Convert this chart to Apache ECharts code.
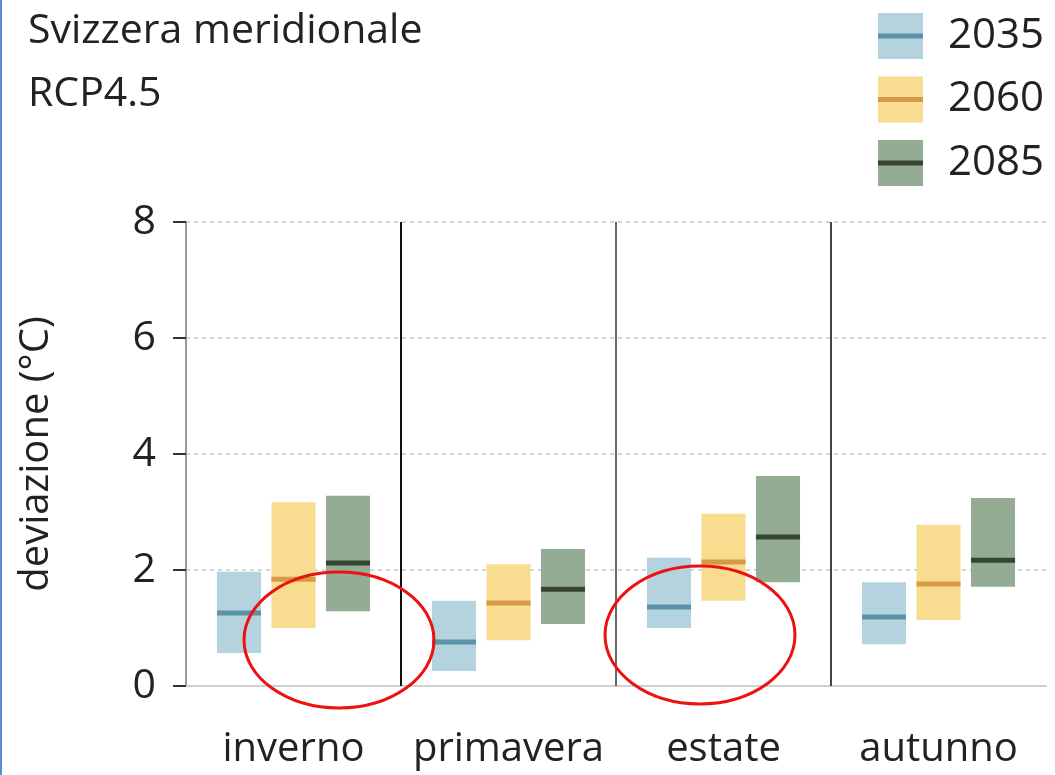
<!DOCTYPE html>
<html>
<head>
<meta charset="utf-8">
<script src="https://cdn.jsdelivr.net/npm/echarts@6/dist/echarts.min.js"></script>
<style>
  html, body { margin: 0; padding: 0; background: #fff; }
  #chart { width: 1055px; height: 775px; }
</style>
</head>
<body>
<div id="chart"></div>
<script>
// stagioni e scenari
const seasons = ['inverno', 'primavera', 'estate', 'autunno'];
const years = ['2035', '2060', '2085'];
const yTicks = [0, 2, 4, 6, 8];

// deviazione (°C): minimo, mediana, massimo per stagione
const low2035 = [0.57, 0.26, 1.00, 0.72];
const med2035 = [1.26, 0.76, 1.36, 1.19];
const high2035 = [1.97, 1.47, 2.21, 1.79];

const low2060 = [1.00, 0.79, 1.47, 1.14];
const med2060 = [1.84, 1.43, 2.14, 1.76];
const high2060 = [3.17, 2.10, 2.97, 2.78];

const low2085 = [1.29, 1.07, 1.79, 1.71];
const med2085 = [2.12, 1.67, 2.57, 2.17];
const high2085 = [3.28, 2.36, 3.62, 3.24];

const boxColors = ['#b4d3de', '#f8dc8f', '#94ac93'];
const lineColors = ['#5b92a8', '#d59a45', '#364530'];
const sepColors = ['#111111', '#666666', '#444444'];
const FONT = 'Open Sans';

let chart = echarts.init(document.getElementById('chart'));

function buildData(lo, md, hi) {
  return seasons.map((s, i) => [i, lo[i], md[i], hi[i]]);
}

function makeRender(k) {
  return function (params, api) {
    const cat = api.value(0);
    const band = api.size([1, 0])[0];
    const w = band * 0.205;
    const cx = api.coord([cat, 0])[0] + (k - 1) * band * 0.2535;
    const yBot = api.coord([cat, api.value(1)])[1];
    const yMed = api.coord([cat, api.value(2)])[1];
    const yTop = api.coord([cat, api.value(3)])[1];
    return {
      type: 'group',
      children: [
        { type: 'rect', shape: { x: cx - w / 2, y: yTop, width: w, height: yBot - yTop }, style: { fill: boxColors[k] } },
        { type: 'rect', shape: { x: cx - w / 2, y: yMed - 2.5, width: w, height: 5 }, style: { fill: lineColors[k] } }
      ]
    };
  };
}

// linee verticali tra le stagioni
function renderSep(params, api) {
  const cat = api.value(0);
  const band = api.size([1, 0])[0];
  const x = api.coord([cat, 0])[0] - band / 2;
  const y0 = api.coord([cat, yTicks[0]])[1];
  const y1 = api.coord([cat, yTicks[yTicks.length - 1]])[1];
  return {
    type: 'line',
    shape: { x1: x, y1: y0, x2: x, y2: y1 },
    style: { stroke: sepColors[params.dataIndex], lineWidth: 2 }
  };
}

const allLow = [low2035, low2060, low2085];
const allMed = [med2035, med2060, med2085];
const allHigh = [high2035, high2060, high2085];

let series = years.map((y, k) => ({
  name: y,
  type: 'custom',
  renderItem: makeRender(k),
  itemStyle: { color: boxColors[k] },
  encode: { x: 0, y: [1, 2, 3] },
  data: buildData(allLow[k], allMed[k], allHigh[k]),
  z: 3
}));
series.push({
  name: 'sep',
  type: 'custom',
  renderItem: renderSep,
  encode: { x: 0, y: 1 },
  data: [[1, 0], [2, 0], [3, 0]],
  silent: true,
  z: 2
});

let option = {
  animation: false,
  title: {
    text: 'Svizzera meridionale\nRCP4.5',
    left: 28,
    top: 0,
    padding: 0,
    textStyle: { fontFamily: FONT, fontSize: 41, fontWeight: 'normal', color: '#222', lineHeight: 63 }
  },
  legend: [
    {
      data: years,
      orient: 'vertical',
      left: 878,
      top: 13,
      padding: 0,
      icon: 'rect',
      itemWidth: 45,
      itemHeight: 46,
      itemGap: 17.5,
      selectedMode: false,
      textStyle: { fontFamily: FONT, fontSize: 42, color: '#222', lineHeight: 40, padding: [0, 0, 0, 20] }
    },
    {
      data: years.map((y, k) => ({ name: y, itemStyle: { color: lineColors[k] } })),
      orient: 'vertical',
      left: 878,
      top: 16,
      padding: 0,
      icon: 'rect',
      itemWidth: 45,
      itemHeight: 5,
      itemGap: 23.5,
      selectedMode: false,
      formatter: () => ' ',
      textStyle: { fontSize: 40, lineHeight: 40, color: 'transparent' }
    }
  ],
  grid: { left: 186, right: 9, top: 222, bottom: 89 },
  xAxis: {
    type: 'category',
    data: seasons,
    axisLine: { lineStyle: { color: '#d0d0d0', width: 2 } },
    axisTick: { show: false },
    axisLabel: { interval: 0, fontFamily: FONT, fontSize: 40, color: '#222', margin: 44 },
    splitLine: { show: false }
  },
  yAxis: {
    type: 'value',
    min: 0,
    max: 8,
    interval: 2,
    name: 'deviazione (°C)',
    nameLocation: 'middle',
    nameGap: 129,
    nameTextStyle: { fontFamily: FONT, fontSize: 40, color: '#222' },
    axisLine: { show: true, lineStyle: { color: '#999', width: 2 } },
    axisTick: { show: true, length: 13, lineStyle: { color: '#333', width: 2 } },
    axisLabel: { fontFamily: FONT, fontSize: 41, color: '#222', margin: 30 },
    splitLine: { show: true, lineStyle: { color: '#c8c8c8', type: [4, 4], width: 1.5 } }
  },
  graphic: [
    { type: 'line', shape: { x1: 1, y1: 0, x2: 1, y2: 775 }, style: { stroke: '#5b8bd0', lineWidth: 2 }, z: 100 },
    { type: 'ellipse', shape: { cx: 339, cy: 640, rx: 95, ry: 68 }, style: { fill: null, stroke: '#ee1111', lineWidth: 3 }, z: 100 },
    { type: 'ellipse', shape: { cx: 700, cy: 635, rx: 95, ry: 69 }, style: { fill: null, stroke: '#ee1111', lineWidth: 3 }, z: 100 }
  ],
  series: series
};

option && chart.setOption(option);
</script>
</body>
</html>
